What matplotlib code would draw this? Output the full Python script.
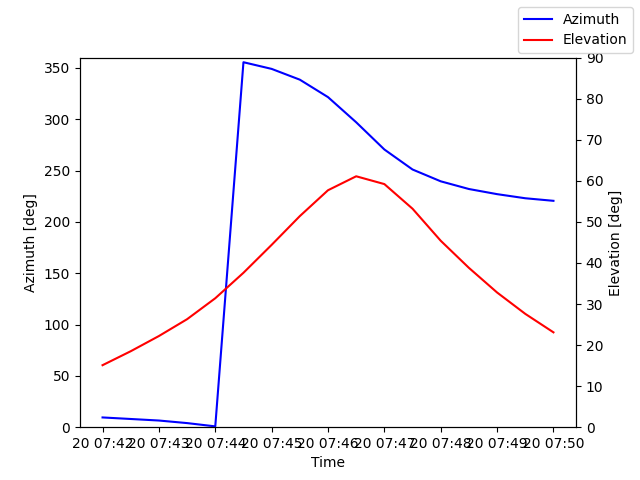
import numpy as np
import matplotlib
matplotlib.use("Agg")
import matplotlib.pyplot as plt

# samples every 30 s
times = np.arange(np.datetime64("2023-01-20T07:42:00"),
                  np.datetime64("2023-01-20T07:50:30"),
                  np.timedelta64(30, "s")).astype("datetime64[ms]").astype(object)

azimuth = [9.5, 8.0, 6.5, 4.0, 0.8, 355.5, 349.0, 338.5, 321.5, 297.0,
           270.5, 251.0, 239.5, 232.0, 227.0, 223.0, 220.5]
elevation = [15.1, 18.5, 22.2, 26.3, 31.4, 37.6, 44.4, 51.4, 57.7, 61.1,
             59.2, 53.2, 45.4, 38.8, 32.8, 27.6, 23.1]

fig, ax1 = plt.subplots()
ax1.plot(times, azimuth, color="blue", label="Azimuth")
ax1.set_ylim(0, 360)
ax1.set_xlabel("Time")
ax1.set_ylabel("Azimuth [deg]")

ax2 = ax1.twinx()
ax2.plot(times, elevation, color="red", label="Elevation")
ax2.set_ylim(0, 90)
ax2.set_ylabel("Elevation [deg]")

fig.legend()
fig.savefig("out.png")
